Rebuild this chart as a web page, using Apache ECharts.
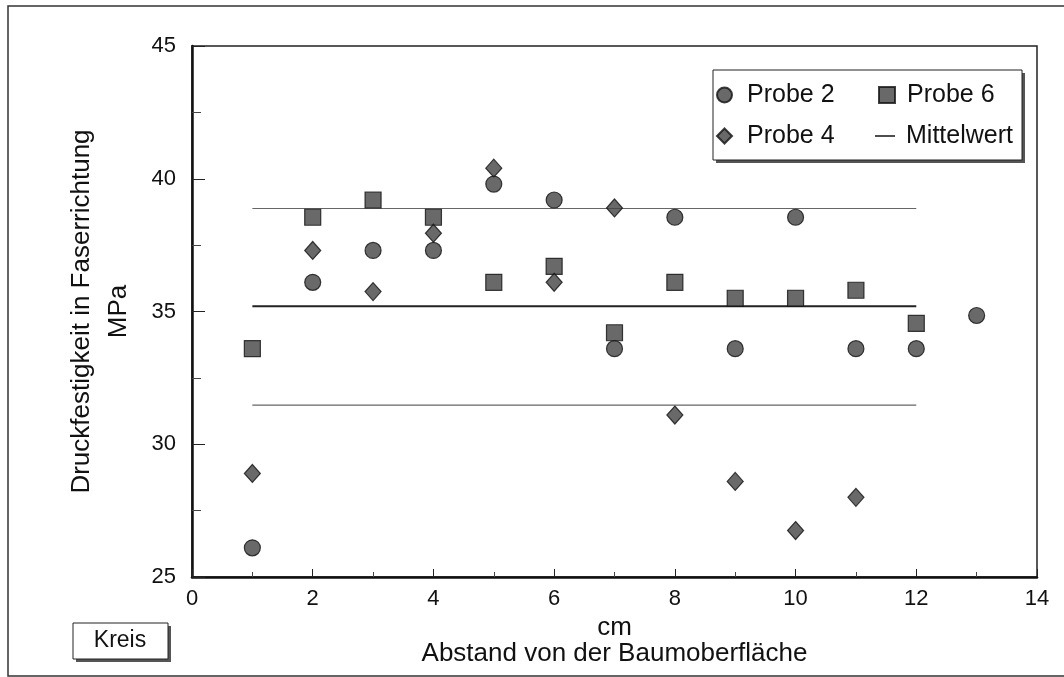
<!DOCTYPE html>
<html>
<head>
<meta charset="utf-8">
<script src="https://cdn.jsdelivr.net/npm/echarts@6/dist/echarts.min.js"></script>
<style>
html,body{margin:0;padding:0;background:#fff;}
#chart{width:1064px;height:677px;}
</style>
</head>
<body>
<div id="chart"></div>
<script>
// Abstand von der Baumoberfläche (cm)
const xProbe2 = [1,2,3,4,5,6,7,8,9,10,11,12,13];
const probe2  = [26.1,36.1,37.3,37.3,39.8,39.2,33.6,38.55,33.6,38.55,33.6,33.6,34.85];
const xProbe4 = [1,2,3,4,5,6,7,8,9,10,11];
const probe4  = [28.9,37.3,35.75,37.95,40.4,36.1,38.9,31.1,28.6,26.75,28.0];
const xProbe6 = [1,2,3,4,5,6,7,8,9,10,11,12];
const probe6  = [33.6,38.55,39.2,38.55,36.1,36.7,34.2,36.1,35.5,35.5,35.8,34.55];
const meanRange = [1,12];
const meanValue = 35.2;
const meanUpper = 38.88;
const meanLower = 31.47;
const xTicks = [0,2,4,6,8,10,12,14];
const yTicks = [25,30,35,40,45];

const FONT = 'Liberation Sans, Arial, sans-serif';
const pair = (xs, ys) => xs.map((x,i)=>[x, ys[i]]);
const hline = v => meanRange.map(x=>[x, v]);

const markerStyle = {color:'#444', borderColor:'#111', borderWidth:1.2};
const legendText = pad => ({fontSize:25, lineHeight:26, color:'#111', fontFamily:FONT, padding:[0,0,0,pad]});

const chart = echarts.init(document.getElementById('chart'), null, {renderer:'canvas'});
chart.setOption({
  animation:false,
  backgroundColor:'#fff',
  textStyle:{fontFamily:FONT, color:'#111'},
  grid:{left:192, top:46, right:27, bottom:100, show:true, borderColor:'#222', borderWidth:1.5, backgroundColor:'transparent'},
  xAxis:{
    type:'value', min:xTicks[0], max:xTicks[xTicks.length-1], interval:2,
    name:'cm\nAbstand von der Baumoberfläche', nameLocation:'middle', nameGap:36,
    nameTextStyle:{fontSize:26, lineHeight:26, color:'#111', fontFamily:FONT},
    axisLine:{show:true, onZero:false, lineStyle:{color:'#111', width:2.5}},
    axisTick:{show:true, inside:true, length:8, lineStyle:{color:'#222', width:1}},
    minorTick:{show:true, splitNumber:2, length:5, lineStyle:{color:'#444', width:1}},
    axisLabel:{fontSize:22, margin:11, color:'#111', fontFamily:FONT},
    splitLine:{show:false}
  },
  yAxis:{
    type:'value', min:yTicks[0], max:yTicks[yTicks.length-1], interval:5,
    name:'Druckfestigkeit in Faserrichtung\nMPa', nameLocation:'middle', nameRotate:90, nameGap:55,
    nameTextStyle:{fontSize:26, lineHeight:37, color:'#111', fontFamily:FONT, align:'center'},
    axisLine:{show:true, onZero:false, lineStyle:{color:'#111', width:2.5}},
    axisTick:{show:true, inside:true, length:13, lineStyle:{color:'#222', width:1}},
    minorTick:{show:true, splitNumber:2, length:9, lineStyle:{color:'#444', width:1}},
    axisLabel:{fontSize:22, margin:16, color:'#111', fontFamily:FONT},
    splitLine:{show:false}
  },
  legend:[
    {
      orient:'vertical', left:716, top:82, padding:0, itemGap:15,
      itemWidth:15, itemHeight:15, selectedMode:false, z:5,
      textStyle:legendText(10),
      data:['Probe 2','Probe 4']
    },
    {
      orient:'vertical', left:878, top:82, padding:0, itemGap:15,
      itemWidth:16, itemHeight:16, selectedMode:false, z:5,
      textStyle:legendText(7),
      data:['Probe 6']
    },
    {
      orient:'vertical', left:875, top:123, padding:0, itemGap:15,
      itemWidth:20, itemHeight:2, selectedMode:false, z:5,
      textStyle:legendText(6),
      data:[{name:'Mittelwert', icon:'path://M0,0 L20,0 L20,1.6 L0,1.6 Z', itemStyle:{color:'#222', borderWidth:0}}]
    }
  ],
  graphic:[
    {type:'rect', silent:true, z:-1, shape:{x:8, y:6, width:1070, height:670},
     style:{fill:'none', stroke:'#333', lineWidth:1.5}},
    {type:'rect', silent:true, z:0, shape:{x:716, y:73, width:309, height:90},
     style:{fill:'#555', stroke:'none'}},
    {type:'rect', silent:true, z:0, shape:{x:713, y:70, width:309, height:90},
     style:{fill:'#fff', stroke:'#222', lineWidth:1}},
    {type:'rect', silent:true, shape:{x:76, y:626, width:95, height:36},
     style:{fill:'#555', stroke:'none'}},
    {type:'rect', silent:true, shape:{x:73, y:623, width:95, height:36},
     style:{fill:'#fff', stroke:'#222', lineWidth:1}},
    {type:'text', silent:true, x:120, y:641,
     style:{text:'Kreis', fontSize:23, fontFamily:FONT, fill:'#111', align:'center', verticalAlign:'middle'}}
  ],
  series:[
    {name:'Mittelwert', type:'line', data:hline(meanValue), symbol:'none', silent:true,
     lineStyle:{color:'#222', width:2}, z:1},
    {name:'Mittelwert', type:'line', data:hline(meanUpper), symbol:'none', silent:true,
     lineStyle:{color:'#666', width:1.2}, z:1},
    {name:'Mittelwert', type:'line', data:hline(meanLower), symbol:'none', silent:true,
     lineStyle:{color:'#666', width:1.2}, z:1},
    {name:'Probe 6', type:'scatter', symbol:'rect', symbolSize:16, data:pair(xProbe6, probe6), itemStyle:markerStyle, z:3},
    {name:'Probe 4', type:'scatter', symbol:'diamond', symbolSize:[16,18], data:pair(xProbe4, probe4), itemStyle:markerStyle, z:3},
    {name:'Probe 2', type:'scatter', symbol:'circle', symbolSize:16, data:pair(xProbe2, probe2), itemStyle:markerStyle, z:3}
  ]
});
</script>
</body>
</html>
